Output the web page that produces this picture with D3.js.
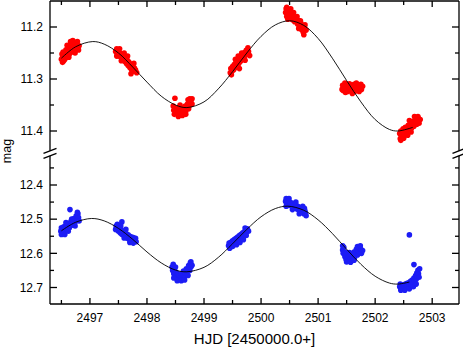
<!DOCTYPE html>
<html><head><meta charset="utf-8">
<script src="https://cdn.jsdelivr.net/npm/d3@7"></script>
<style>html,body{margin:0;padding:0;background:#fff}svg{display:block}text{font-family:Arial,"Liberation Sans",sans-serif;fill:#000}</style>
</head><body>
<svg id="c" width="463" height="348"></svg>
<script>
// ---- data ----
const xMajorTicks = [2497, 2498, 2499, 2500, 2501, 2502, 2503];
const xMinorTicks = [2496.5, 2497.5, 2498.5, 2499.5, 2500.5, 2501.5, 2502.5];
const topMajorTicks = [11.2, 11.3, 11.4];
const topMinorTicks = [11.15, 11.25, 11.35];
const botMajorTicks = [12.4, 12.5, 12.6, 12.7];
const botMinorTicks = [12.35, 12.45, 12.55, 12.65, 12.75];
const xTitle = "HJD [2450000.0+]";
const yTitle = "mag";

const redPts = [
 [2496.50,11.262],[2496.51,11.252],[2496.52,11.258],[2496.53,11.248],[2496.54,11.265],[2496.55,11.255],[2496.57,11.250],[2496.58,11.244],[2496.60,11.258],[2496.61,11.247],[2496.62,11.240],[2496.64,11.252],[2496.65,11.243],[2496.66,11.236],[2496.68,11.248],[2496.69,11.240],[2496.70,11.233],[2496.72,11.245],[2496.73,11.236],[2496.74,11.230],[2496.76,11.240],[2496.77,11.233],[2496.79,11.238],[2496.80,11.244],
 [2496.52,11.268],[2496.56,11.262],[2496.60,11.235],[2496.66,11.228],[2496.70,11.226],[2496.74,11.250],[2496.63,11.258],[2496.78,11.228],[2496.81,11.236],
 [2497.45,11.247],[2497.47,11.242],[2497.48,11.252],[2497.50,11.248],[2497.51,11.256],[2497.53,11.250],[2497.55,11.258],[2497.56,11.253],[2497.58,11.262],[2497.59,11.256],[2497.61,11.266],[2497.62,11.260],[2497.64,11.270],[2497.65,11.263],[2497.67,11.274],[2497.68,11.267],[2497.70,11.278],[2497.71,11.271],[2497.73,11.282],[2497.75,11.276],[2497.76,11.285],[2497.78,11.279],[2497.80,11.283],
 [2497.47,11.256],[2497.52,11.242],[2497.60,11.250],[2497.66,11.256],[2497.72,11.290],[2497.77,11.270],[2497.82,11.288],[2497.55,11.265],
 [2498.49,11.337],[2498.46,11.352],[2498.47,11.360],[2498.49,11.356],[2498.50,11.364],[2498.52,11.358],[2498.53,11.366],[2498.55,11.361],[2498.56,11.355],[2498.58,11.363],[2498.59,11.368],[2498.61,11.360],[2498.62,11.356],[2498.64,11.364],[2498.65,11.358],[2498.67,11.352],[2498.68,11.362],[2498.70,11.355],[2498.71,11.348],[2498.73,11.357],[2498.74,11.345],[2498.76,11.350],[2498.77,11.342],[2498.79,11.348],
 [2498.48,11.368],[2498.55,11.372],[2498.62,11.370],[2498.68,11.368],[2498.75,11.338],[2498.79,11.338],[2498.72,11.340],[2498.58,11.350],
 [2499.46,11.288],[2499.47,11.280],[2499.49,11.285],[2499.50,11.276],[2499.52,11.282],[2499.53,11.272],[2499.55,11.278],[2499.56,11.268],[2499.58,11.274],[2499.59,11.264],[2499.61,11.270],[2499.62,11.261],[2499.64,11.266],[2499.65,11.257],[2499.67,11.262],[2499.68,11.253],[2499.70,11.258],[2499.71,11.249],[2499.73,11.254],[2499.74,11.245],[2499.76,11.250],[2499.78,11.247],
 [2499.48,11.292],[2499.55,11.262],[2499.62,11.280],[2499.66,11.250],[2499.72,11.264],[2499.77,11.240],[2499.80,11.255],[2499.60,11.256],
 [2500.43,11.172],[2500.44,11.165],[2500.45,11.180],[2500.46,11.170],[2500.48,11.176],[2500.49,11.168],[2500.50,11.182],[2500.52,11.174],[2500.53,11.180],[2500.55,11.186],[2500.56,11.178],[2500.58,11.184],[2500.59,11.190],[2500.61,11.182],[2500.62,11.188],[2500.64,11.194],[2500.65,11.187],[2500.67,11.196],[2500.68,11.202],[2500.70,11.193],[2500.71,11.205],[2500.73,11.198],[2500.74,11.210],[2500.76,11.203],[2500.77,11.196],
 [2500.45,11.162],[2500.47,11.185],[2500.52,11.165],[2500.57,11.172],[2500.63,11.180],[2500.69,11.188],[2500.75,11.215],[2500.79,11.206],[2500.66,11.203],
 [2501.43,11.312],[2501.44,11.322],[2501.45,11.316],[2501.47,11.308],[2501.48,11.326],[2501.49,11.318],[2501.51,11.312],[2501.52,11.324],[2501.54,11.316],[2501.55,11.309],[2501.57,11.322],[2501.58,11.314],[2501.60,11.328],[2501.61,11.318],[2501.63,11.310],[2501.64,11.324],[2501.66,11.316],[2501.67,11.308],[2501.69,11.320],[2501.70,11.313],[2501.72,11.324],[2501.73,11.316],[2501.75,11.310],[2501.76,11.320],
 [2501.78,11.314],[2501.42,11.320],
 [2502.43,11.405],[2502.44,11.415],[2502.45,11.400],[2502.46,11.410],[2502.48,11.404],[2502.49,11.396],[2502.50,11.408],[2502.52,11.400],[2502.53,11.393],[2502.55,11.403],[2502.56,11.396],[2502.58,11.389],[2502.59,11.399],[2502.61,11.392],[2502.62,11.385],[2502.64,11.394],[2502.65,11.388],[2502.67,11.381],[2502.68,11.391],[2502.70,11.384],[2502.71,11.378],[2502.73,11.387],[2502.74,11.380],[2502.76,11.376],[2502.77,11.385],
 [2502.45,11.418],[2502.50,11.414],[2502.57,11.408],[2502.63,11.402],[2502.69,11.372],[2502.75,11.372],[2502.79,11.378],[2502.60,11.380]
];

const bluePts = [
 [2496.65,12.472],
 [2496.49,12.535],[2496.50,12.525],[2496.51,12.540],[2496.53,12.530],[2496.54,12.522],[2496.55,12.536],[2496.57,12.526],[2496.58,12.518],[2496.60,12.530],[2496.61,12.520],[2496.63,12.512],[2496.64,12.525],[2496.66,12.514],[2496.67,12.506],[2496.69,12.518],[2496.70,12.508],[2496.72,12.498],[2496.73,12.512],[2496.75,12.500],[2496.76,12.490],[2496.77,12.504],[2496.79,12.484],[2496.80,12.495],
 [2496.50,12.545],[2496.56,12.545],[2496.62,12.535],[2496.68,12.500],[2496.74,12.520],[2496.78,12.480],[2496.81,12.505],[2496.58,12.510],
 [2497.56,12.508],
 [2497.46,12.520],[2497.47,12.530],[2497.49,12.524],[2497.50,12.535],[2497.52,12.528],[2497.53,12.540],[2497.55,12.532],[2497.56,12.544],[2497.58,12.536],[2497.59,12.547],[2497.61,12.540],[2497.62,12.551],[2497.64,12.543],[2497.65,12.555],[2497.67,12.546],[2497.68,12.558],[2497.70,12.550],[2497.71,12.561],[2497.73,12.552],[2497.75,12.563],[2497.76,12.554],[2497.78,12.560],[2497.80,12.556],
 [2497.48,12.515],[2497.54,12.520],[2497.63,12.530],[2497.70,12.568],[2497.76,12.570],[2497.81,12.566],[2497.60,12.555],[2497.45,12.530],
 [2498.44,12.640],[2498.45,12.650],[2498.46,12.632],[2498.47,12.660],[2498.48,12.645],[2498.50,12.668],[2498.51,12.655],[2498.52,12.672],[2498.54,12.660],[2498.55,12.676],[2498.57,12.665],[2498.58,12.672],[2498.60,12.660],[2498.61,12.674],[2498.63,12.664],[2498.64,12.652],[2498.66,12.668],[2498.67,12.656],[2498.69,12.645],[2498.70,12.660],[2498.72,12.648],[2498.73,12.636],[2498.75,12.650],[2498.76,12.628],[2498.77,12.640],
 [2498.47,12.672],[2498.53,12.680],[2498.60,12.680],[2498.66,12.678],[2498.72,12.665],[2498.77,12.625],[2498.79,12.635],[2498.50,12.640],
 [2499.43,12.578],[2499.44,12.570],[2499.46,12.580],[2499.47,12.568],[2499.49,12.575],[2499.50,12.563],[2499.52,12.572],[2499.53,12.560],[2499.55,12.568],[2499.56,12.556],[2499.58,12.564],[2499.59,12.552],[2499.61,12.560],[2499.62,12.548],[2499.64,12.556],[2499.65,12.544],[2499.67,12.552],[2499.68,12.540],[2499.70,12.548],[2499.71,12.536],[2499.73,12.542],[2499.75,12.532],[2499.76,12.528],
 [2499.45,12.585],[2499.50,12.580],[2499.57,12.575],[2499.63,12.568],[2499.69,12.560],[2499.74,12.548],[2499.78,12.535],[2499.72,12.526],
 [2500.43,12.448],[2500.44,12.440],[2500.45,12.455],[2500.47,12.446],[2500.48,12.460],[2500.50,12.450],[2500.51,12.458],[2500.53,12.452],[2500.54,12.462],[2500.56,12.455],[2500.57,12.465],[2500.59,12.458],[2500.60,12.468],[2500.62,12.460],[2500.63,12.470],[2500.65,12.463],[2500.66,12.473],[2500.68,12.466],[2500.69,12.476],[2500.71,12.468],[2500.72,12.480],[2500.74,12.472],[2500.75,12.484],[2500.77,12.476],[2500.78,12.482],
 [2500.44,12.462],[2500.49,12.440],[2500.55,12.472],[2500.61,12.450],[2500.67,12.484],[2500.73,12.462],[2500.79,12.490],[2500.76,12.468],
 [2501.43,12.590],[2501.44,12.600],[2501.45,12.582],[2501.47,12.610],[2501.48,12.596],[2501.49,12.618],[2501.51,12.605],[2501.52,12.622],[2501.54,12.610],[2501.55,12.598],[2501.57,12.615],[2501.58,12.604],[2501.60,12.620],[2501.61,12.608],[2501.63,12.596],[2501.64,12.612],[2501.66,12.600],[2501.67,12.588],[2501.69,12.605],[2501.70,12.592],[2501.72,12.582],[2501.73,12.598],[2501.75,12.588],[2501.76,12.600],
 [2501.43,12.578],[2501.50,12.625],[2501.57,12.626],[2501.63,12.620],[2501.69,12.580],[2501.74,12.578],[2501.78,12.592],[2501.46,12.600],
 [2502.60,12.546],[2502.68,12.633],
 [2502.43,12.698],[2502.44,12.690],[2502.45,12.704],[2502.47,12.694],[2502.48,12.702],[2502.50,12.692],[2502.51,12.700],[2502.53,12.690],[2502.54,12.698],[2502.56,12.688],[2502.57,12.696],[2502.59,12.686],[2502.60,12.694],[2502.62,12.682],[2502.63,12.691],[2502.65,12.678],[2502.66,12.688],[2502.68,12.672],[2502.69,12.682],[2502.71,12.665],[2502.72,12.676],[2502.73,12.658],[2502.74,12.668],[2502.75,12.650],
 [2502.45,12.708],[2502.52,12.708],[2502.60,12.704],[2502.67,12.698],[2502.72,12.690],[2502.76,12.660],[2502.78,12.645],[2502.77,12.670]
];

const redFit = [
 [2496.5,11.260],[2496.75,11.238],[2497.05,11.228],[2497.25,11.233],[2497.5,11.250],[2497.75,11.277],[2498.0,11.306],[2498.25,11.333],[2498.5,11.350],[2498.7,11.355],
 [2499.0,11.344],[2499.25,11.319],[2499.5,11.286],[2499.75,11.250],[2500.0,11.218],[2500.25,11.196],[2500.5,11.188],
 [2500.75,11.197],[2501.0,11.222],[2501.25,11.260],[2501.5,11.303],[2501.75,11.344],[2502.0,11.378],[2502.25,11.397],[2502.4,11.400],[2502.66,11.393]
];
const blueFit = [
 [2496.5,12.534],[2496.75,12.509],[2497.03,12.498],[2497.25,12.505],[2497.5,12.527],[2497.75,12.559],[2498.0,12.596],[2498.25,12.628],[2498.5,12.649],[2498.7,12.654],
 [2499.0,12.641],[2499.25,12.612],[2499.5,12.572],[2499.75,12.530],[2500.0,12.493],[2500.25,12.469],[2500.47,12.462],
 [2500.75,12.474],[2501.0,12.502],[2501.25,12.542],[2501.5,12.588],[2501.75,12.632],[2502.0,12.667],[2502.25,12.687],[2502.4,12.690],[2502.6,12.684]
];

// ---- layout ----
const L = 50, R = 459, T = 1, B = 304;
const svg = d3.select("#c");
const x = d3.scaleLinear().domain([2496.3, 2503.47]).range([L, R]);
const yTop = d3.scaleLinear().domain([11.15, 11.4]).range([T, 131]);
const yBot = d3.scaleLinear().domain([12.4, 12.7]).range([185, 287.5]);
const breakY1 = 150.8, breakY2 = 155.8;
const majorLen = 7, minorLen = 4;
const ax = svg.append("g").attr("stroke", "#000").attr("stroke-width", 1.3).attr("fill", "none");

// frame lines
ax.append("line").attr("x1", L).attr("x2", R).attr("y1", T).attr("y2", T);
ax.append("line").attr("x1", L).attr("x2", R).attr("y1", B).attr("y2", B);
[L, R].forEach(xx => {
  ax.append("line").attr("x1", xx).attr("x2", xx).attr("y1", T).attr("y2", breakY1);
  ax.append("line").attr("x1", xx).attr("x2", xx).attr("y1", breakY2).attr("y2", B);
  [breakY1, breakY2].forEach(by => {
    ax.append("line").attr("x1", xx - 6.5).attr("y1", by + 2.5).attr("x2", xx + 6.5).attr("y2", by - 2.5);
  });
});

// x ticks (bottom and top, inward)
xMajorTicks.forEach(v => {
  ax.append("line").attr("x1", x(v)).attr("x2", x(v)).attr("y1", B).attr("y2", B - majorLen + 1);
  ax.append("line").attr("x1", x(v)).attr("x2", x(v)).attr("y1", T).attr("y2", T + majorLen - 1);
});
xMinorTicks.forEach(v => {
  ax.append("line").attr("x1", x(v)).attr("x2", x(v)).attr("y1", B).attr("y2", B - minorLen);
  ax.append("line").attr("x1", x(v)).attr("x2", x(v)).attr("y1", T).attr("y2", T + minorLen);
});
// y ticks
function yTicks(scale, vals, len) {
  vals.forEach(v => {
    const yy = scale(v);
    ax.append("line").attr("x1", L).attr("x2", L + len).attr("y1", yy).attr("y2", yy);
    ax.append("line").attr("x1", R).attr("x2", R - len).attr("y1", yy).attr("y2", yy);
  });
}
yTicks(yTop, topMajorTicks, majorLen);
yTicks(yTop, topMinorTicks.filter(v => yTop(v) > T + 1), minorLen);
yTicks(yBot, botMajorTicks, majorLen);
yTicks(yBot, botMinorTicks.filter(v => yBot(v) < B - 1), minorLen);

// labels
const fmt = d3.format(".1f");
svg.append("g").selectAll("text").data(xMajorTicks).join("text")
  .attr("x", d => x(d)).attr("y", 322).attr("text-anchor", "middle").attr("font-size", 12).text(d => d);
svg.append("g").selectAll("text").data(topMajorTicks).join("text")
  .attr("x", 43).attr("y", d => yTop(d) + 4.3).attr("text-anchor", "end").attr("font-size", 12).text(fmt);
svg.append("g").selectAll("text").data(botMajorTicks).join("text")
  .attr("x", 43).attr("y", d => yBot(d) + 4.3).attr("text-anchor", "end").attr("font-size", 12).text(fmt);
svg.append("text").attr("x", (L + R) / 2).attr("y", 344).attr("text-anchor", "middle").attr("font-size", 15).text(xTitle);
svg.append("text").attr("transform", "translate(11,151) rotate(-90)").attr("text-anchor", "middle").attr("font-size", 12.5).text(yTitle);

// points
svg.append("g").selectAll("circle").data(redPts).join("circle")
  .attr("cx", d => x(d[0])).attr("cy", d => yTop(d[1])).attr("r", 2.8).attr("fill", "#ff0000");
svg.append("g").selectAll("circle").data(bluePts).join("circle")
  .attr("cx", d => x(d[0])).attr("cy", d => yBot(d[1])).attr("r", 2.8).attr("fill", "#1c1cf5");

// fit curves
const lineTop = d3.line().x(d => x(d[0])).y(d => yTop(d[1])).curve(d3.curveCatmullRom);
const lineBot = d3.line().x(d => x(d[0])).y(d => yBot(d[1])).curve(d3.curveCatmullRom);
svg.append("path").attr("d", lineTop(redFit)).attr("fill", "none").attr("stroke", "#000").attr("stroke-width", 0.9);
svg.append("path").attr("d", lineBot(blueFit)).attr("fill", "none").attr("stroke", "#000").attr("stroke-width", 0.9);
</script>
</body></html>
